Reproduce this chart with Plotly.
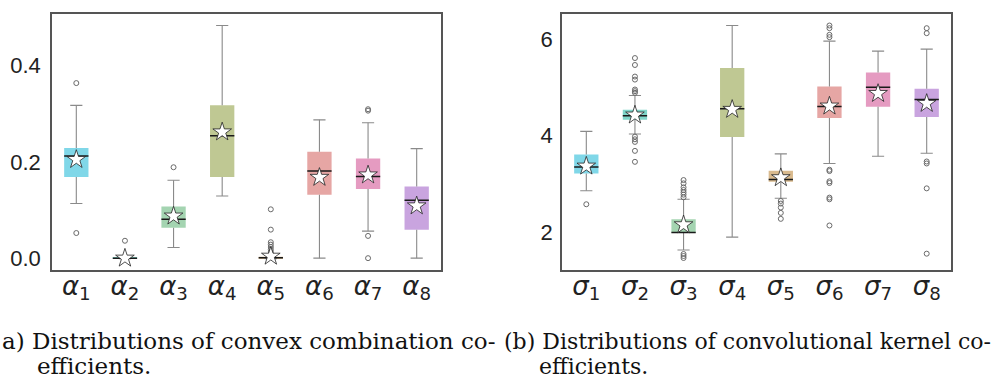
import plotly.graph_objects as go

# ---------- data ----------
alpha_labels = ["1", "2", "3", "4", "5", "6", "7", "8"]
alpha_lo   = [0.114, 0.000, 0.023, 0.1295, 0.000, 0.001, 0.057, 0.001]
alpha_q1   = [0.169, 0.000, 0.064, 0.1686, 0.0005, 0.132, 0.144, 0.060]
alpha_med  = [0.212, 0.001, 0.0815, 0.254, 0.002, 0.181, 0.170, 0.121]
alpha_q3   = [0.229, 0.002, 0.108, 0.317, 0.004, 0.221, 0.207, 0.149]
alpha_hi   = [0.317, 0.003, 0.162, 0.482, 0.008, 0.287, 0.281, 0.2275]
alpha_mean = [0.205, 0.001, 0.088, 0.262, 0.005, 0.168, 0.173, 0.109]
alpha_out  = [[0.363, 0.053], [0.037], [0.189], [],
              [0.102, 0.060, 0.034, 0.029, 0.024, 0.019, 0.014], [],
              [0.306, 0.309, 0.047, 0.001], []]

sigma_labels = ["1", "2", "3", "4", "5", "6", "7", "8"]
sigma_lo   = [2.868, 4.038, 1.644, 1.911, 2.711, 3.429, 3.579, 3.641]
sigma_q1   = [3.224, 4.332, 1.993, 3.976, 3.053, 4.366, 4.598, 4.386]
sigma_med  = [3.354, 4.414, 2.007, 4.557, 3.101, 4.605, 5.002, 4.749]
sigma_q3   = [3.614, 4.537, 2.280, 5.398, 3.279, 5.015, 5.303, 4.968]
sigma_hi   = [4.092, 4.831, 2.691, 6.274, 3.627, 5.952, 5.747, 5.788]
sigma_mean = [3.374, 4.427, 2.164, 4.544, 3.135, 4.612, 4.872, 4.667]
sigma_out  = [[2.588],
              [5.603, 5.460, 5.221, 5.159, 4.954, 4.920, 4.886,
               3.983, 3.928, 3.874, 3.689, 3.463],
              [3.087, 3.019, 2.937, 2.882, 2.834, 2.786, 2.731,
               1.562, 1.521, 1.480],
              [],
              [2.656, 2.602, 2.520, 2.410, 2.287],
              [6.274, 6.219, 6.082, 6.034,
               3.299, 3.272, 3.060, 3.026, 2.725, 2.691, 2.150],
              [],
              [6.219, 6.116, 3.470, 3.429, 2.916, 1.569]]

colors = ["#80d7e8", "#7fd5c9", "#a4d4b1", "#bfc893",
          "#d9ba8e", "#e6a6a4", "#e59bc1", "#c9a4df"]

caption_a = ["a) Distributions of convex combination co-", "efficients."]
caption_b = ["(b) Distributions of convolutional kernel co-", "efficients."]

# ---------- figure ----------
fig = go.Figure()
BOX_W = 0.5
CAP_W = 0.25


def add_panel(fig, lo, q1, med, q3, hi, mean, outs, xa, ya):
    pos = list(range(len(q1)))
    # boxes
    fig.add_trace(go.Bar(
        x=pos, y=[b - a for a, b in zip(q1, q3)], base=q1, width=BOX_W,
        marker=dict(color=colors, line=dict(width=0)),
        xaxis=xa, yaxis=ya, showlegend=False, hoverinfo="skip"))
    # whiskers and caps
    wx, wy = [], []
    for p, l, a, b, h in zip(pos, lo, q1, q3, hi):
        wx += [p, p, None, p, p, None,
               p - CAP_W / 2, p + CAP_W / 2, None, p - CAP_W / 2, p + CAP_W / 2, None]
        wy += [b, h, None, a, l, None, h, h, None, l, l, None]
    fig.add_trace(go.Scatter(x=wx, y=wy, mode="lines",
                             line=dict(color="#8a8a8a", width=1.1),
                             xaxis=xa, yaxis=ya, showlegend=False, hoverinfo="skip"))
    # medians
    mx, my = [], []
    for p, m in zip(pos, med):
        mx += [p - BOX_W / 2, p + BOX_W / 2, None]
        my += [m, m, None]
    fig.add_trace(go.Scatter(x=mx, y=my, mode="lines",
                             line=dict(color="#1a1a1a", width=1.5),
                             xaxis=xa, yaxis=ya, showlegend=False, hoverinfo="skip"))
    # outliers
    ox, oy = [], []
    for p, o in zip(pos, outs):
        ox += [p] * len(o)
        oy += o
    fig.add_trace(go.Scatter(x=ox, y=oy, mode="markers",
                             marker=dict(symbol="circle-open", size=5,
                                         color="#6a6a6a", line=dict(width=1)),
                             xaxis=xa, yaxis=ya, showlegend=False, hoverinfo="skip"))
    # means
    fig.add_trace(go.Scatter(x=pos, y=mean, mode="markers",
                             marker=dict(symbol="star", size=14, color="white",
                                         line=dict(color="#222222", width=0.8)),
                             xaxis=xa, yaxis=ya, showlegend=False, hoverinfo="skip"))


add_panel(fig, alpha_lo, alpha_q1, alpha_med, alpha_q3, alpha_hi, alpha_mean, alpha_out, "x", "y")
add_panel(fig, sigma_lo, sigma_q1, sigma_med, sigma_q3, sigma_hi, sigma_mean, sigma_out, "x2", "y2")

W, H = 998, 381
y_dom = [1 - 271 / H, 1 - 14 / H]

axis_common = dict(showgrid=False, zeroline=False, showline=True, mirror=True,
                   linecolor="#555555", linewidth=1.5, ticks="")
xfont = dict(family="DejaVu Sans", size=26, color="#222222")
yfont = dict(family="Liberation Sans", size=22, color="#222222")

fig.update_layout(
    width=W, height=H, margin=dict(l=0, r=0, t=0, b=0),
    paper_bgcolor="white", plot_bgcolor="white", barmode="overlay",
    xaxis=dict(domain=[52 / W, 441 / W], range=[-0.5, 7.5],
               tickvals=list(range(8)),
               ticktext=["<i>α</i><sub>%s</sub>" % s for s in alpha_labels],
               tickfont=xfont, ticklabelstandoff=-8, **axis_common),
    yaxis=dict(domain=y_dom, range=[-0.0226, 0.506],
               tickvals=[0.0, 0.2, 0.4], ticktext=["0.0", "0.2", "0.4"],
               tickfont=yfont, ticklabelstandoff=5, **axis_common),
    xaxis2=dict(domain=[562 / W, 951 / W], range=[-0.5, 7.5], anchor="y2",
                tickvals=list(range(8)),
                ticktext=["<i>σ</i><sub>%s</sub>" % s for s in sigma_labels],
                tickfont=xfont, ticklabelstandoff=-8, **axis_common),
    yaxis2=dict(domain=y_dom, range=[1.241, 6.513], anchor="x2",
                tickvals=[2, 4, 6], ticktext=["2", "4", "6"],
                tickfont=yfont, ticklabelstandoff=3, **axis_common),
)

ann = [
    dict(x=0 / W, y=1 - 343 / H, text=caption_a[0], size=23),
    dict(x=35 / W, y=1 - 368 / H, text=caption_a[1], size=23),
    dict(x=502 / W, y=1 - 343 / H, text=caption_b[0], size=22),
    dict(x=537 / W, y=1 - 368 / H, text=caption_b[1], size=22),
]
for a in ann:
    fig.add_annotation(xref="paper", yref="paper", x=a["x"], y=a["y"], text=a["text"],
                       showarrow=False, xanchor="left", yanchor="middle",
                       font=dict(family="DejaVu Serif", size=a["size"], color="#111111"))

fig.write_html("out.html", config={"displayModeBar": False},
               post_script="document.body.style.margin='0';document.body.style.padding='0';")
